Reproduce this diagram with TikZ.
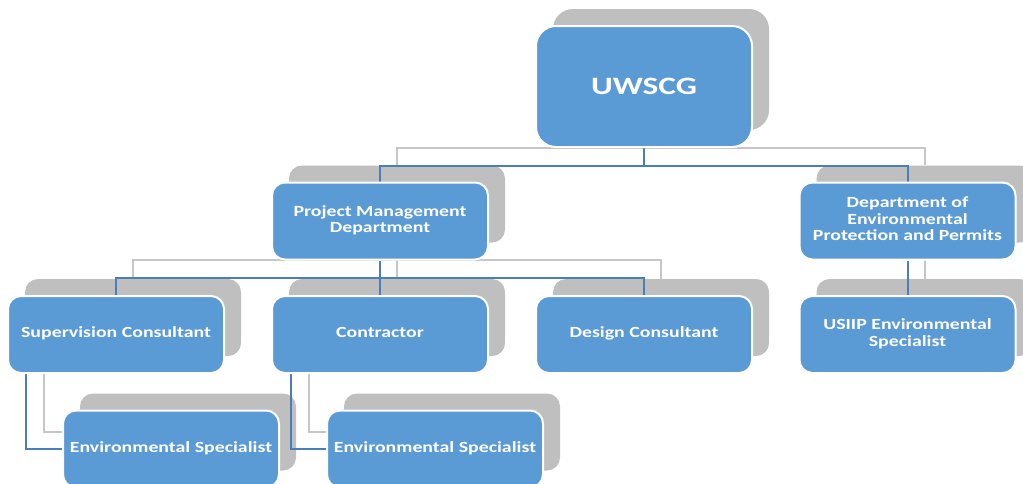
\documentclass[tikz,border=0pt]{standalone}
\usepackage{fontspec}
\setmainfont{Carlito}
\usepackage{graphicx}
\definecolor{boxblue}{HTML}{5B9BD5}
\definecolor{shadowgray}{HTML}{BFBFBF}
\definecolor{lineblue}{HTML}{4A7EBB}
\definecolor{linegray}{HTML}{C6C6C6}
\newcommand{\bxt}[1]{\scalebox{1.28}[1]{\fontsize{15.5}{16.5}\selectfont\bfseries\begin{tabular}{@{}c@{}}#1\end{tabular}}}
\newcommand{\bigt}[1]{\scalebox{1.33}[1]{\fontsize{25}{30}\selectfont\bfseries #1}}
\pgfdeclarelayer{back}
\pgfdeclarelayer{mid}
\pgfsetlayers{back,mid,main}
\begin{document}
\begin{tikzpicture}[x=1pt,y=-1pt,
  box/.style={rounded corners=13pt, fill=boxblue, draw=white, line width=2pt,
    minimum width=216pt, minimum height=77pt, inner sep=0pt, text=white, align=center},
  topbox/.style={box, rounded corners=20pt, minimum height=121pt},
  shadowbox/.style={rounded corners=13pt, fill=shadowgray,
    minimum width=216pt, minimum height=77pt, inner sep=0pt},
  topshadow/.style={shadowbox, rounded corners=20pt, minimum height=121pt},
  blueline/.style={draw=lineblue, line width=2pt},
  grayline/.style={draw=linegray, line width=2pt}]
\clip (0,0) rectangle (1023,483);
% boxes
\node[topbox] (U) at (644,86.5) {\bigt{UWSCG}};
\node[box] (PMD) at (380,221) {\bxt{Project Management\\Department}};
\node[box] (DEP) at (907.5,221) {\bxt{Department of\\Environmental\\Protection and Permits}};
\node[box] (SC) at (116,334.5) {\bxt{Supervision Consultant}};
\node[box] (CO) at (380,334.5) {\bxt{Contractor}};
\node[box] (DC) at (644,334.5) {\bxt{Design Consultant}};
\node[box] (US) at (907.5,334.5) {\bxt{USIIP Environmental\\Specialist}};
\node[box] (E1) at (171,449) {\bxt{Environmental Specialist}};
\node[box] (E2) at (435,449) {\bxt{Environmental Specialist}};
\begin{pgfonlayer}{back}
% shadows
\node[topshadow] (Us) at (661,69.5) {};
\node[shadowbox] (PMDs) at (397,204) {};
\node[shadowbox] (DEPs) at (924.5,204) {};
\node[shadowbox] (SCs) at (133,317.5) {};
\node[shadowbox] (COs) at (397,317.5) {};
\node[shadowbox] (DCs) at (661,317.5) {};
\node[shadowbox] (USs) at (924.5,317.5) {};
\node[shadowbox] (E1s) at (188,432) {};
\node[shadowbox] (E2s) at (452,432) {};
% gray connectors
\draw[grayline] (Us.south) -- ++(0,18) -| (PMDs.north);
\draw[grayline] (Us.south) -- ++(0,18) -| (DEPs.north);
\draw[grayline] (PMDs.south) -- ++(0,17) -| (SCs.north);
\draw[grayline] (PMDs.south) -- ++(0,17) -| (COs.north);
\draw[grayline] (PMDs.south) -- ++(0,17) -| (DCs.north);
\draw[grayline] (DEPs.south) -- (USs.north);
\draw[grayline] ([xshift=19pt]SCs.south west) |- (E1s.west);
\draw[grayline] ([xshift=20pt]COs.south west) |- (E2s.west);
\end{pgfonlayer}
\begin{pgfonlayer}{mid}
% blue connectors
\draw[blueline] (U.south) -- ++(0,18) -| (PMD.north);
\draw[blueline] (U.south) -- ++(0,18) -| (DEP.north);
\draw[blueline] (PMD.south) -- ++(0,17) -| (SC.north);
\draw[blueline] (PMD.south) -- ++(0,17) -| (CO.north);
\draw[blueline] (PMD.south) -- ++(0,17) -| (DC.north);
\draw[blueline] (DEP.south) -- (US.north);
\draw[blueline] ([xshift=19pt]SC.south west) |- (E1.west);
\draw[blueline] ([xshift=20pt]CO.south west) |- (E2.west);
\end{pgfonlayer}
\end{tikzpicture}
\end{document}
